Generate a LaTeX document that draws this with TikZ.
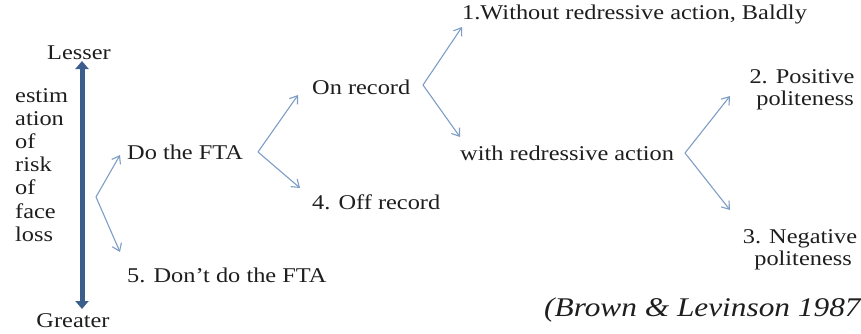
\documentclass[tikz,border=0pt]{standalone}
\usepackage{fontspec}
\setmainfont[FakeStretch=1.16]{Liberation Serif}
\usetikzlibrary{arrows.meta}
\definecolor{ink}{HTML}{1E1E1E}
\definecolor{scalec}{HTML}{3B5E8C}
\definecolor{branchc}{HTML}{7E9DC6}
\begin{document}
\begin{tikzpicture}[x=1pt,y=-1pt,
  every node/.style={inner sep=0pt, text=ink, font=\fontsize{21}{22.2}\selectfont},
  lbl/.style={anchor=west},
  branch/.style={draw=branchc, line width=1.1pt, -{Straight Barb[length=7pt,width=10pt]}},
  scalearrow/.style={draw=scalec, line width=5pt,
    {Triangle[length=8pt,width=13pt]}-{Triangle[length=8pt,width=13pt]}}]
\useasboundingbox (0,0) rectangle (861,333);

% risk scale on the left
\node (lesser) at (79,53) {Lesser};
\node (greater) at (73,321) {Greater};
\coordinate (stop) at (82,61);
\coordinate (sbot) at (82,309);
\draw[scalearrow] (stop) -- (sbot);
\node[anchor=north west, align=left, font=\fontsize{21}{23.2}\selectfont] (est) at (15,88)
  {estim\\ation\\of\\risk\\of\\face\\loss};

% strategy labels
\node[lbl] (fta)  at (127,152) {Do the FTA};
\node[lbl] (dont) at (127,275) {5. Don’t do the FTA};
\node[lbl] (on)   at (312,87)  {On record};
\node[lbl] (off)  at (312,202) {4. Off record};
\node[lbl] (bald) at (462,14)  {1.Without redressive action, Baldly};
\node[lbl] (with) at (460,153) {with redressive action};
\node[align=center] (pos) at (802,90)  {2. Positive\\\ politeness};
\node[align=center] (neg) at (800,250) {3. Negative\\\ politeness};
\node[anchor=base west, font=\fontsize{27}{30}\selectfont\itshape] (cite)
  at (544,316) {(Brown \& Levinson 1987};

% branching arrows
\coordinate (v0) at (96,197);
\coordinate (v0a) at (120,155);
\coordinate (v0b) at (120,252);
\draw[branch] (v0) -- (v0a);
\draw[branch] (v0) -- (v0b);

\coordinate (v1) at (258,152);
\coordinate (v1a) at (298,95);
\coordinate (v1b) at (300,188);
\draw[branch] (v1) -- (v1a);
\draw[branch] (v1) -- (v1b);

\coordinate (v2) at (423,85);
\coordinate (v2a) at (462,27);
\coordinate (v2b) at (460,137);
\draw[branch] (v2) -- (v2a);
\draw[branch] (v2) -- (v2b);

\coordinate (v3) at (685,153);
\coordinate (v3a) at (730,96);
\coordinate (v3b) at (730,210);
\draw[branch] (v3) -- (v3a);
\draw[branch] (v3) -- (v3b);
\end{tikzpicture}
\end{document}
